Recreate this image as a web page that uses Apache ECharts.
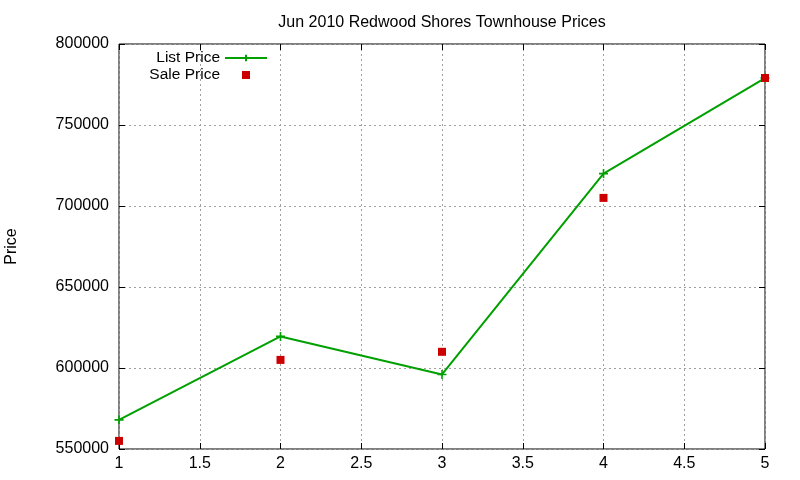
<!DOCTYPE html>
<html>
<head>
<meta charset="utf-8">
<script src="https://cdn.jsdelivr.net/npm/echarts@6/dist/echarts.min.js"></script>
<style>html,body{margin:0;padding:0;background:#fff}#chart{width:800px;height:480px}</style>
</head>
<body>
<div id="chart"></div>
<script>
const units = [1, 2, 3, 4, 5];
const listPrice = [568000, 619500, 596000, 720000, 779000];
const salePrice = [555000, 605000, 610000, 705000, 779000];

const font = 'Liberation Sans, Arial, sans-serif';
const crossIcon = 'path://M0,5L10,5M5,0L5,10';
// square centred in a 42x8 box, so the legend sample sits where the line sample does
const squareIcon = 'path://M0,0L0.05,0L0,0.05Z M17,0L25,0L25,8L17,8Z M42,8L41.95,8L42,7.95Z';
const green = '#00a000', red = '#cc0000';

const gridDash = {show: true, lineStyle: {color: '#a0a0a0', type: [2, 3], width: 1}};
const tick = {show: true, inside: true, length: 6, lineStyle: {color: '#000'}};
const legendText = {fontFamily: font, fontSize: 15.5, color: '#000'};

const chart = echarts.init(document.getElementById('chart'));
chart.setOption({
    animation: false,
    title: {
        text: 'Jun 2010 Redwood Shores Townhouse Prices',
        left: 437, top: 10, textAlign: 'center',
        textStyle: {fontFamily: font, fontSize: 16, fontWeight: 'normal', color: '#000'}
    },
    legend: {
        data: ['List Price', {name: 'Sale Price', icon: squareIcon}],
        orient: 'vertical', align: 'right', right: 527, top: 45,
        itemWidth: 42, itemHeight: 8, itemGap: 1,
        textStyle: legendText
    },
    grid: {left: 119, right: 35, top: 44, bottom: 31, show: true, borderColor: '#000', borderWidth: 1,
           containLabel: false, outerBoundsMode: 'none'},
    xAxis: [
        {type: 'value', min: 1, max: 5, interval: 0.5, position: 'bottom',
         axisLine: {show: false}, axisTick: tick, splitLine: gridDash,
         axisLabel: {fontFamily: font, fontSize: 16, color: '#000', margin: 7}},
        {type: 'value', min: 1, max: 5, interval: 0.5, position: 'top',
         axisLine: {show: false}, axisTick: tick, splitLine: {show: false}, axisLabel: {show: false}}
    ],
    yAxis: [
        {type: 'value', min: 550000, max: 800000, interval: 50000, position: 'left',
         name: 'Price', nameLocation: 'middle', nameRotate: 90, nameGap: 99,
         nameTextStyle: {fontFamily: font, fontSize: 16, color: '#000'},
         axisLine: {show: false}, axisTick: tick, splitLine: gridDash,
         axisLabel: {fontFamily: font, fontSize: 16, color: '#000', margin: 10, formatter: v => String(v)}},
        {type: 'value', min: 550000, max: 800000, interval: 50000, position: 'right',
         axisLine: {show: false}, axisTick: tick, splitLine: {show: false}, axisLabel: {show: false}}
    ],
    series: [
        {name: 'List Price', type: 'line', data: units.map((u, i) => [u, listPrice[i]]),
         symbol: crossIcon, symbolSize: 9, showAllSymbol: true,
         lineStyle: {color: green, width: 2},
         itemStyle: {color: green, borderColor: green, borderWidth: 1.6}},
        {name: 'Sale Price', type: 'scatter', data: units.map((u, i) => [u, salePrice[i]]),
         symbol: 'rect', symbolSize: 8, itemStyle: {color: red, opacity: 1}, z: 3}
    ]
});
</script>
</body>
</html>
